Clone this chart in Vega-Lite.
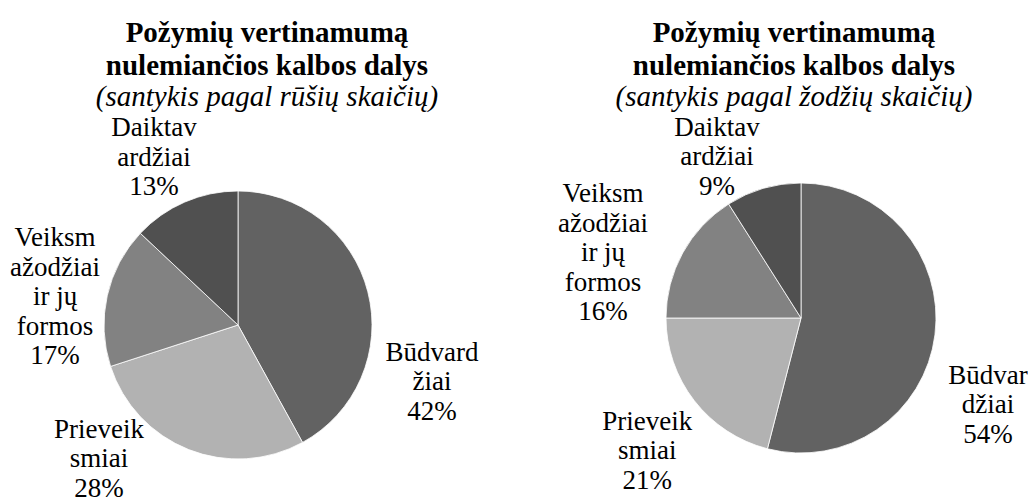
{
  "$schema": "https://vega.github.io/schema/vega-lite/v6.json",
  "background": "white",
  "padding": {"top": 18, "left": 0, "right": 0, "bottom": 0},
  "bounds": "flush",
  "spacing": 125,
  "config": {
    "view": {"stroke": null},
    "font": "Times New Roman",
    "title": {
      "font": "Times New Roman",
      "fontSize": 29,
      "fontWeight": "bold",
      "color": "black",
      "lineHeight": 33,
      "subtitleFont": "Times New Roman",
      "subtitleFontSize": 29,
      "subtitleFontStyle": "italic",
      "subtitleColor": "black",
      "subtitlePadding": 2,
      "anchor": "middle",
      "frame": "group",
      "offset": 2
    },
    "text": {"fontSize": 27, "lineHeight": 29.5, "lineBreak": "\n", "font": "Times New Roman", "color": "black", "align": "center", "baseline": "middle", "radius": 180}
  },
  "datasets": {
    "rusys": [
      {"part": "Būdvardžiai", "value": 42, "label": "Būdvard\nžiai\n42%"},
      {"part": "Prieveiksmiai", "value": 28, "label": "Prieveik\nsmiai\n28%"},
      {"part": "Veiksmažodžiai ir jų formos", "value": 17, "label": "Veiksm\nažodžiai\nir jų\nformos\n17%"},
      {"part": "Daiktavardžiai", "value": 13, "label": "Daiktav\nardžiai\n13%"}
    ],
    "zodziai": [
      {"part": "Būdvardžiai", "value": 54, "label": "Būdvar\ndžiai\n54%"},
      {"part": "Prieveiksmiai", "value": 21, "label": "Prieveik\nsmiai\n21%"},
      {"part": "Veiksmažodžiai ir jų formos", "value": 16, "label": "Veiksm\nažodžiai\nir jų\nformos\n16%"},
      {"part": "Daiktavardžiai", "value": 9, "label": "Daiktav\nardžiai\n9%"}
    ]
  },
  "hconcat": [
    {
      "width": 476,
      "height": 300,
      "title": {
        "text": ["Požymių vertinamumą", "nulemiančios kalbos dalys"],
        "subtitle": "(santykis pagal rūšių skaičių)",
        "dx": 29
      },
      "data": {"name": "rusys"},
      "transform": [{"stack": "value", "groupby": [], "sort": [{"field": "value", "order": "descending"}], "as": ["v0", "v1"]}],
      "layer": [
        {
          "mark": {"type": "arc", "outerRadius": 134, "stroke": "white", "strokeWidth": 0.8},
          "encoding": {
            "theta": {"field": "v0", "type": "quantitative", "scale": {"domain": [0, 100]}},
            "theta2": {"field": "v1"},
            "color": {
              "field": "part",
              "type": "nominal",
              "scale": {
                "domain": ["Būdvardžiai", "Prieveiksmiai", "Veiksmažodžiai ir jų formos", "Daiktavardžiai"],
                "range": ["#626262", "#b2b2b2", "#828282", "#505050"]
              },
              "legend": null
            }
          }
        },
        {
          "transform": [{"filter": "datum.part === 'Būdvardžiai'"}],
          "mark": {"type": "text", "dx": 194, "dy": 207.5},
          "encoding": {"theta": {"field": "v0", "type": "quantitative"}, "text": {"field": "label"}}
        },
        {
          "transform": [{"filter": "datum.part === 'Prieveiksmiai'"}],
          "mark": {"type": "text", "dx": -225.7, "dy": -53},
          "encoding": {"theta": {"field": "v0", "type": "quantitative"}, "text": {"field": "label"}}
        },
        {
          "transform": [{"filter": "datum.part === 'Veiksmažodžiai ir jų formos'"}],
          "mark": {"type": "text", "dx": -11.8, "dy": -142.6},
          "encoding": {"theta": {"field": "v0", "type": "quantitative"}, "text": {"field": "label"}}
        },
        {
          "transform": [{"filter": "datum.part === 'Daiktavardžiai'"}],
          "mark": {"type": "text", "dx": 47.2, "dy": -73.3},
          "encoding": {"theta": {"field": "v0", "type": "quantitative"}, "text": {"field": "label"}}
        }
      ]
    },
    {
      "width": 400,
      "height": 286,
      "title": {
        "text": ["Požymių vertinamumą", "nulemiančios kalbos dalys"],
        "subtitle": "(santykis pagal žodžių skaičių)",
        "dx": -7
      },
      "data": {"name": "zodziai"},
      "transform": [{"stack": "value", "groupby": [], "sort": [{"field": "value", "order": "descending"}], "as": ["v0", "v1"]}],
      "layer": [
        {
          "mark": {"type": "arc", "outerRadius": 135, "stroke": "white", "strokeWidth": 0.8},
          "encoding": {
            "theta": {"field": "v0", "type": "quantitative", "scale": {"domain": [0, 100]}},
            "theta2": {"field": "v1"},
            "color": {
              "field": "part",
              "type": "nominal",
              "scale": {
                "domain": ["Būdvardžiai", "Prieveiksmiai", "Veiksmažodžiai ir jų formos", "Daiktavardžiai"],
                "range": ["#626262", "#b2b2b2", "#828282", "#505050"]
              },
              "legend": null
            }
          }
        },
        {
          "transform": [{"filter": "datum.part === 'Būdvardžiai'"}],
          "mark": {"type": "text", "dx": 187, "dy": 237.5},
          "encoding": {"theta": {"field": "v0", "type": "quantitative"}, "text": {"field": "label"}}
        },
        {
          "transform": [{"filter": "datum.part === 'Prieveiksmiai'"}],
          "mark": {"type": "text", "dx": -109, "dy": -70.8},
          "encoding": {"theta": {"field": "v0", "type": "quantitative"}, "text": {"field": "label"}}
        },
        {
          "transform": [{"filter": "datum.part === 'Veiksmažodžiai ir jų formos'"}],
          "mark": {"type": "text", "dx": -18, "dy": -124},
          "encoding": {"theta": {"field": "v0", "type": "quantitative"}, "text": {"field": "label"}}
        },
        {
          "transform": [{"filter": "datum.part === 'Daiktavardžiai'"}],
          "mark": {"type": "text", "dx": 12.4, "dy": -38.5},
          "encoding": {"theta": {"field": "v0", "type": "quantitative"}, "text": {"field": "label"}}
        }
      ]
    }
  ]
}
